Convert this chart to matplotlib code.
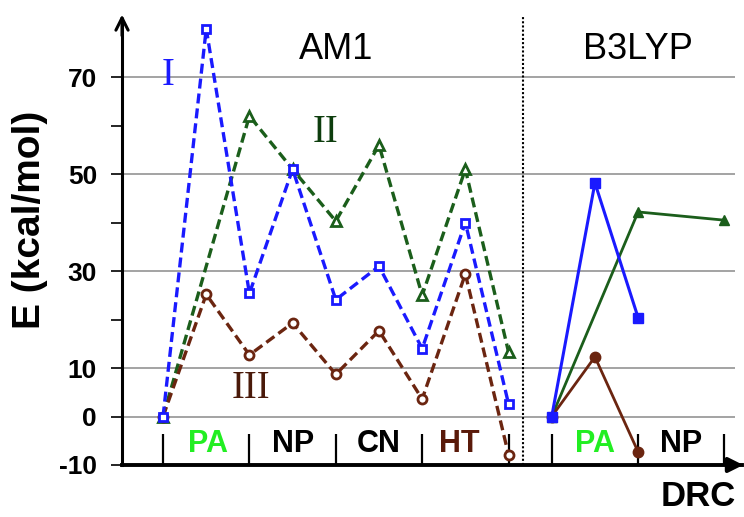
import matplotlib
matplotlib.use("Agg")
import numpy as np
import matplotlib.pyplot as plt

# AM1 profile (dashed, open markers)
am1_x = [0, 1, 2, 3, 4, 5, 6, 7, 8]
am1_I = [0, 80, 25.4, 51, 24.1, 31, 14, 40, 2.6]
am1_II_x = [0, 2, 3, 4, 5, 6, 7, 8]
am1_II = [0, 62, 51, 40.3, 56, 25, 51, 13.3]
am1_III = [0, 25.2, 12.7, 19.3, 8.7, 17.7, 3.6, 29.4, -7.9]

# B3LYP profile (solid, filled markers)
b3_I_x = [9, 10, 11]
b3_I = [0, 48.2, 20.4]
b3_II_x = [9, 11, 13]
b3_II = [0, 42.2, 40.5]
b3_III_x = [9, 10, 11]
b3_III = [0, 12.3, -7.3]

# DRC segments
seg_names = ["PA", "NP", "CN", "HT", "PA", "NP"]
seg_centers = [1.05, 3, 5, 6.85, 10, 12]
seg_colors = ["#22ee22", "black", "black", "#5a1a0a", "#22ee22", "black"]
seg_bounds = [0, 2, 4, 6, 8, 9, 11, 13]

yticks = [-10, 0, 10, 30, 50, 70]
grid_y = [0, 10, 30, 50, 70]
minor_y = [20, 40, 60]

blue = "#1a1aff"
green = "#1b5e1b"
brown = "#6b2510"

plt.rcParams["font.family"] = ["Liberation Sans", "DejaVu Sans"]

fig = plt.figure(figsize=(7.44, 5.17), dpi=100)
ax = fig.add_axes([0.164, 0.1006, 0.833, 0.872])
ax.set_xlim(-0.95, 13.4)
ax.set_ylim(-10, 83)

ax.hlines(grid_y, -0.95, 13.25, color="#8a8a8a", lw=1.1, zorder=1)
ax.vlines(8.33, -10, 82.5, color="black", lw=1.5, linestyles=(0, (1, 1)), zorder=1)
ax.vlines(seg_bounds, -10, -3.6, color="black", lw=1.6, zorder=2)

dash = (0, (3.0, 1.5))
ax.plot(am1_II_x, am1_II, color=green, ls=dash, lw=2.4, marker="^", ms=7,
        mfc="white", mec=green, mew=2, zorder=3)
ax.plot(am1_x, am1_III, color=brown, ls=dash, lw=2.4, marker="o", ms=6.5,
        mfc="white", mec=brown, mew=2, zorder=3)
ax.plot(am1_x, am1_I, color=blue, ls=dash, lw=2.4, marker="s", ms=6,
        mfc="white", mec=blue, mew=2, zorder=4)

ax.plot(b3_II_x, b3_II, color=green, lw=2, marker="^", ms=7.5, zorder=3)
ax.plot(b3_III_x, b3_III, color=brown, lw=2, marker="o", ms=7.5, zorder=3)
ax.plot(b3_I_x, b3_I, color=blue, lw=2.2, marker="s", ms=7.5, zorder=4)

for name, cx, c in zip(seg_names, seg_centers, seg_colors):
    ax.text(cx, -5.7, name, ha="center", va="center", fontsize=22,
            fontweight="bold", color=c)

ax.text(4.0, 75.8, "AM1", ha="center", va="center", fontsize=26)
ax.text(11.0, 75.8, "B3LYP", ha="center", va="center", fontsize=26)
serif = ["Liberation Serif", "DejaVu Serif"]
ax.text(0.12, 70.3, "I", ha="center", va="center", fontsize=28,
        color=blue, family=serif)
ax.text(3.77, 58.5, "II", ha="center", va="center", fontsize=28,
        color="#0d3d0d", family=serif)
ax.text(2.04, 5.7, "III", ha="center", va="center", fontsize=28,
        color="#4a1a0a", family=serif)

# axes look
for s in ["top", "right"]:
    ax.spines[s].set_visible(False)
ax.spines["left"].set_linewidth(2.2)
ax.spines["bottom"].set_linewidth(2.8)
ax.spines["left"].set_bounds(-10, 82)
ax.set_xticks([])
ax.set_yticks(yticks)
ax.set_yticks(minor_y, minor=True)
ax.set_yticklabels([str(v) for v in yticks], fontsize=19, fontweight="bold")
ax.tick_params(axis="y", which="both", direction="out", length=8, width=1.2,
               pad=10)
ax.annotate("", xy=(-0.95, 83.5), xytext=(-0.95, 78), annotation_clip=False,
            arrowprops=dict(arrowstyle="->", color="black", lw=2.2,
                            mutation_scale=22))
ax.annotate("", xy=(13.5, -10), xytext=(13.0, -10), annotation_clip=False,
            arrowprops=dict(arrowstyle="-|>", color="black", lw=2.8,
                            mutation_scale=22))

fig.text(30 / 744, 1 - 220 / 517, "E (kcal/mol)", rotation=90, ha="center",
         va="center", fontsize=28, fontweight="bold")
fig.text(698 / 744, 1 - 496 / 517, "DRC", ha="center", va="center",
         fontsize=25, fontweight="bold")

fig.savefig("out.png", dpi=100)
